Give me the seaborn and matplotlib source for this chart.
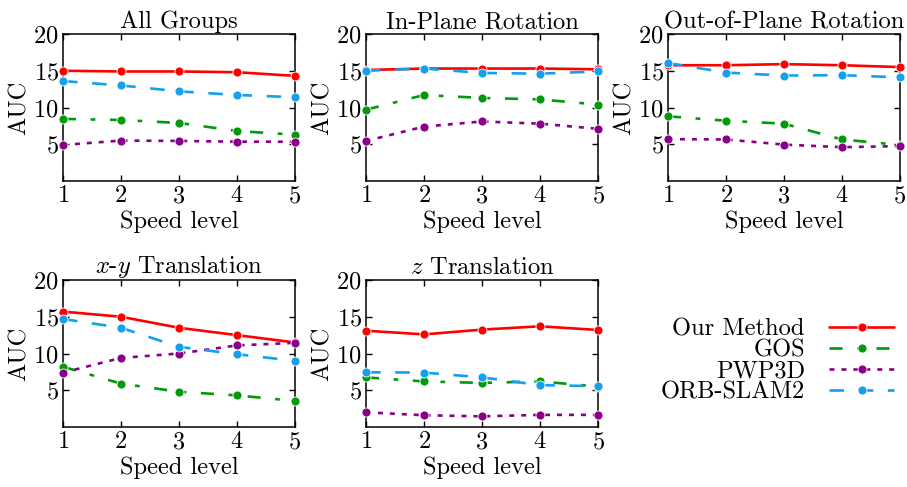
import matplotlib
matplotlib.use("Agg")
import matplotlib.pyplot as plt
from matplotlib.lines import Line2D
import pandas as pd
import seaborn as sns

# ---------------- data ----------------
speed = [1, 2, 3, 4, 5]
groups = ["All Groups", "In-Plane Rotation", "Out-of-Plane Rotation",
          r"$x$-$y$ Translation", r"$z$ Translation"]
methods = ["Our Method", "GOS", "PWP3D", "ORB-SLAM2"]

our_method = [[15.0, 14.9, 14.9, 14.8, 14.3],
              [15.1, 15.3, 15.3, 15.3, 15.2],
              [15.75, 15.75, 15.9, 15.75, 15.5],
              [15.7, 15.0, 13.5, 12.5, 11.5],
              [13.1, 12.6, 13.25, 13.7, 13.2]]
gos = [[8.45, 8.3, 7.9, 6.8, 6.3],
       [9.7, 11.7, 11.3, 11.1, 10.4],
       [8.8, 8.2, 7.8, 5.65, 4.9],
       [8.2, 5.9, 4.8, 4.3, 3.55],
       [6.75, 6.2, 6.0, 6.2, 5.5]]
pwp3d = [[4.9, 5.5, 5.45, 5.35, 5.35],
         [5.45, 7.4, 8.1, 7.8, 7.1],
         [5.7, 5.65, 4.95, 4.6, 4.75],
         [7.4, 9.4, 10.0, 11.1, 11.45],
         [2.0, 1.6, 1.45, 1.65, 1.65]]
orb_slam2 = [[13.6, 13.0, 12.2, 11.7, 11.4],
             [15.0, 15.3, 14.7, 14.6, 14.9],
             [16.05, 14.75, 14.35, 14.4, 14.1],
             [14.7, 13.5, 10.9, 9.9, 9.0],
             [7.45, 7.4, 6.75, 5.7, 5.55]]

y_ticks = [5, 10, 15, 20]

# ---------------- style ----------------
colors = {"Our Method": "#ff0000", "GOS": "#009a0a",
          "PWP3D": "#880088", "ORB-SLAM2": "#14a0ec"}
dashes = {"Our Method": "", "GOS": (9.4, 10.5, 3.4, 10.5),
          "PWP3D": (3.6, 5.0), "ORB-SLAM2": (10.5, 10.5)}
markers = {m: "o" for m in methods}

sns.set_theme(style="ticks")
plt.rcParams.update({
    "font.family": "cmr10",
    "mathtext.fontset": "cm",
    "axes.formatter.use_mathtext": True,
    "axes.unicode_minus": False,
    "lines.scale_dashes": False,
    "xtick.direction": "in", "ytick.direction": "in",
    "xtick.top": True, "ytick.right": True,
    "xtick.major.size": 4.5, "ytick.major.size": 4.5,
    "xtick.major.width": 1.0, "ytick.major.width": 1.0,
    "axes.linewidth": 1.1, "axes.edgecolor": "black",
    "text.color": "black", "axes.labelcolor": "black",
    "xtick.color": "black", "ytick.color": "black",
})

fs = 17.6

rows = []
series = {"Our Method": our_method, "GOS": gos, "PWP3D": pwp3d, "ORB-SLAM2": orb_slam2}
for gi, g in enumerate(groups):
    for m in methods:
        for s, v in zip(speed, series[m][gi]):
            rows.append({"group": g, "method": m, "speed": s, "AUC": v})
df = pd.DataFrame(rows)

W, H = 907, 487
fig = plt.figure(figsize=(W / 100, H / 100), dpi=100)

lefts = [63, 366, 668]
ax_w = 232
row_tops = [34, 280]
ax_h = 147

positions = [(lefts[0], row_tops[0]), (lefts[1], row_tops[0]), (lefts[2], row_tops[0]),
             (lefts[0], row_tops[1]), (lefts[1], row_tops[1])]

for gi, g in enumerate(groups):
    x0, t0 = positions[gi]
    ax = fig.add_axes([x0 / W, 1 - (t0 + ax_h) / H, ax_w / W, ax_h / H])
    sub = df[df["group"] == g]
    sns.lineplot(data=sub, x="speed", y="AUC", hue="method", style="method",
                 hue_order=methods, style_order=methods, palette=colors,
                 dashes=dashes, markers=markers, markersize=6.5,
                 markeredgecolor="white", markeredgewidth=0.6,
                 linewidth=1.9, legend=False, ax=ax, clip_on=False)
    ax.set_xlim(1, 5)
    ax.set_ylim(0, 20)
    ax.set_xticks(speed)
    ax.set_yticks(y_ticks)
    ax.tick_params(labelsize=fs, pad=3)
    ax.set_xlabel("Speed level", fontsize=fs, labelpad=2)
    ax.set_ylabel("AUC", fontsize=fs, labelpad=2)
    ax.set_title(g, fontsize=fs, pad=4)
    for sp in ax.spines.values():
        sp.set_visible(True)
        sp.set_zorder(0.5)

handles = []
for m in methods:
    ls = "-" if dashes[m] == "" else (0, dashes[m])
    handles.append(Line2D([], [], color=colors[m], linestyle=ls, linewidth=1.9,
                          marker="o", markersize=6.5, markeredgecolor="white",
                          markeredgewidth=0.6))
fig.legend(handles, methods, loc="center", bbox_to_anchor=(0.857, 0.259),
           frameon=False, markerfirst=False, handlelength=2.65,
           handletextpad=1.0, labelspacing=-0.04, fontsize=fs, numpoints=1)

fig.savefig("out.png", dpi=100)
